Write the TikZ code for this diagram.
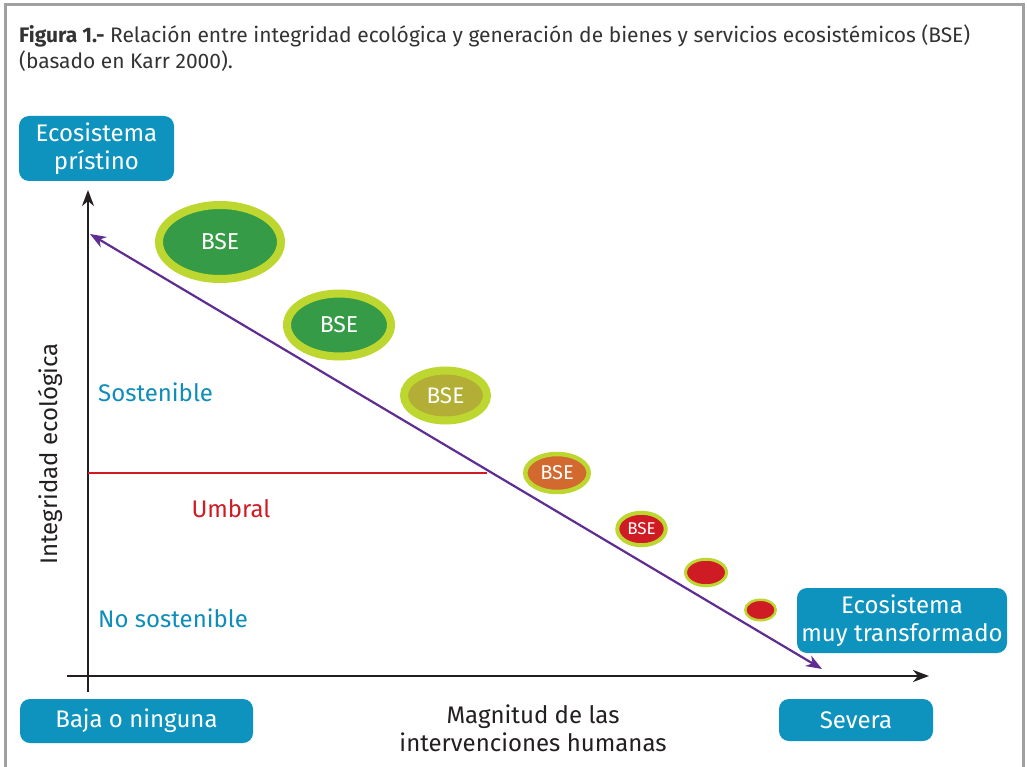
\documentclass[tikz,border=0pt]{standalone}
\usepackage{fontspec}
\setmainfont{Fira Sans}
\usetikzlibrary{arrows.meta,shapes.geometric}
\definecolor{boxblue}{RGB}{14,147,191}
\definecolor{txtblue}{RGB}{14,141,186}
\definecolor{lime}{RGB}{190,215,48}
\definecolor{bgreen}{RGB}{53,155,70}
\definecolor{olive}{RGB}{179,174,54}
\definecolor{orng}{RGB}{210,105,47}
\definecolor{bred}{RGB}{207,28,36}
\definecolor{purp}{RGB}{95,45,145}
\definecolor{dark}{RGB}{35,31,32}
\definecolor{capt}{RGB}{51,51,51}
\definecolor{frame}{RGB}{160,160,160}
\begin{document}
\begin{tikzpicture}[x=1pt,y=-1pt,
  bluebox/.style={fill=boxblue,rounded corners=10pt,text=white,inner sep=0pt,align=center,font=\fontsize{24}{28}\selectfont},
  bse/.style={ellipse,draw=lime,inner sep=0pt,outer sep=0pt,text=white},
  lbl/.style={font=\fontsize{24}{28}\selectfont,anchor=west,inner sep=0pt},
  axis/.style={draw=dark,line width=2.2pt},
  tip/.style={-{Stealth[length=16pt,width=12pt,inset=5pt]}}
]
\useasboundingbox (0,0) rectangle (1027,767);
\fill[white] (0,0) rectangle (1027,767);
% frame
\draw[frame,line width=3pt] (5,767) -- (5,5) -- (1023,5) -- (1023,767);
% caption
\node[anchor=north west,inner sep=0pt,text=capt,align=left,font=\fontsize{21}{26}\selectfont] (cap) at (19,25)
 {\textbf{Figura 1.-} Relación entre integridad ecológica y generación de bienes y servicios ecosistémicos (BSE)\\(basado en Karr 2000).};
% boxes
\node[bluebox,minimum width=155pt,minimum height=65pt] (prist) at (96.5,148.5) {Ecosistema\\prístino};
\node[bluebox,minimum width=210pt,minimum height=65pt] (trans) at (902,620.5) {Ecosistema\\muy transformado};
\node[bluebox,minimum width=233pt,minimum height=44pt] (baja) at (136.5,721) {Baja o ninguna};
\node[bluebox,minimum width=154pt,minimum height=42pt] (sev) at (856,720) {Severa};
% axes
\coordinate (yb) at (88,692);
\coordinate (yt) at (88,190);
\coordinate (xl) at (67,676);
\coordinate (xr) at (929,676);
\draw[axis,tip] (yb) -- (yt);
\draw[axis,tip] (xl) -- (xr);
% threshold
\coordinate (u1) at (88,473);
\coordinate (u2) at (487,473);
\draw[bred,line width=2.2pt] (u1) -- (u2);
% purple arrow
\coordinate (p1) at (90,234);
\coordinate (p2) at (822,669);
\draw[purp,line width=2.2pt,{Stealth[length=16pt,width=12pt,inset=5pt]}-{Stealth[length=16pt,width=12pt,inset=5pt]}] (p1) -- (p2);
% labels
\node[lbl,text=txtblue] (sost) at (98,392) {Sostenible};
\node[lbl,text=bred,anchor=center] (umb) at (231,509) {Umbral};
\node[lbl,text=txtblue] (nosost) at (98,618) {No sostenible};
\node[lbl,text=dark,anchor=center,rotate=90] (integ) at (50,454) {Integridad ecológica};
\node[text=dark,align=center,inner sep=0pt,font=\fontsize{24}{28}\selectfont] (mag) at (533,728) {Magnitud de las\\intervenciones humanas};
% BSE ellipses
\node[bse,fill=bgreen,line width=8pt,minimum width=122pt,minimum height=74pt,font=\fontsize{23}{24}\selectfont] (e1) at (220,242) {BSE};
\node[bse,fill=bgreen,line width=8pt,minimum width=104pt,minimum height=63pt,font=\fontsize{23}{24}\selectfont] (e2) at (339,325) {BSE};
\node[bse,fill=olive,line width=8pt,minimum width=83pt,minimum height=50pt,font=\fontsize{22.5}{24}\selectfont] (e3) at (445.5,395.5) {BSE};
\node[bse,fill=orng,line width=4.5pt,minimum width=63.5pt,minimum height=38pt,font=\fontsize{20}{22}\selectfont] (e4) at (557,473) {BSE};
\node[bse,fill=bred,line width=4pt,minimum width=48.5pt,minimum height=32.5pt,font=\fontsize{17}{19}\selectfont] (e5) at (641.5,529) {BSE};
\node[bse,fill=bred,line width=3pt,minimum width=41pt,minimum height=26.5pt] (e6) at (706,572.5) {};
\node[bse,fill=bred,line width=2.5pt,minimum width=30.5pt,minimum height=20.5pt] (e7) at (760.5,610) {};
\end{tikzpicture}
\end{document}
